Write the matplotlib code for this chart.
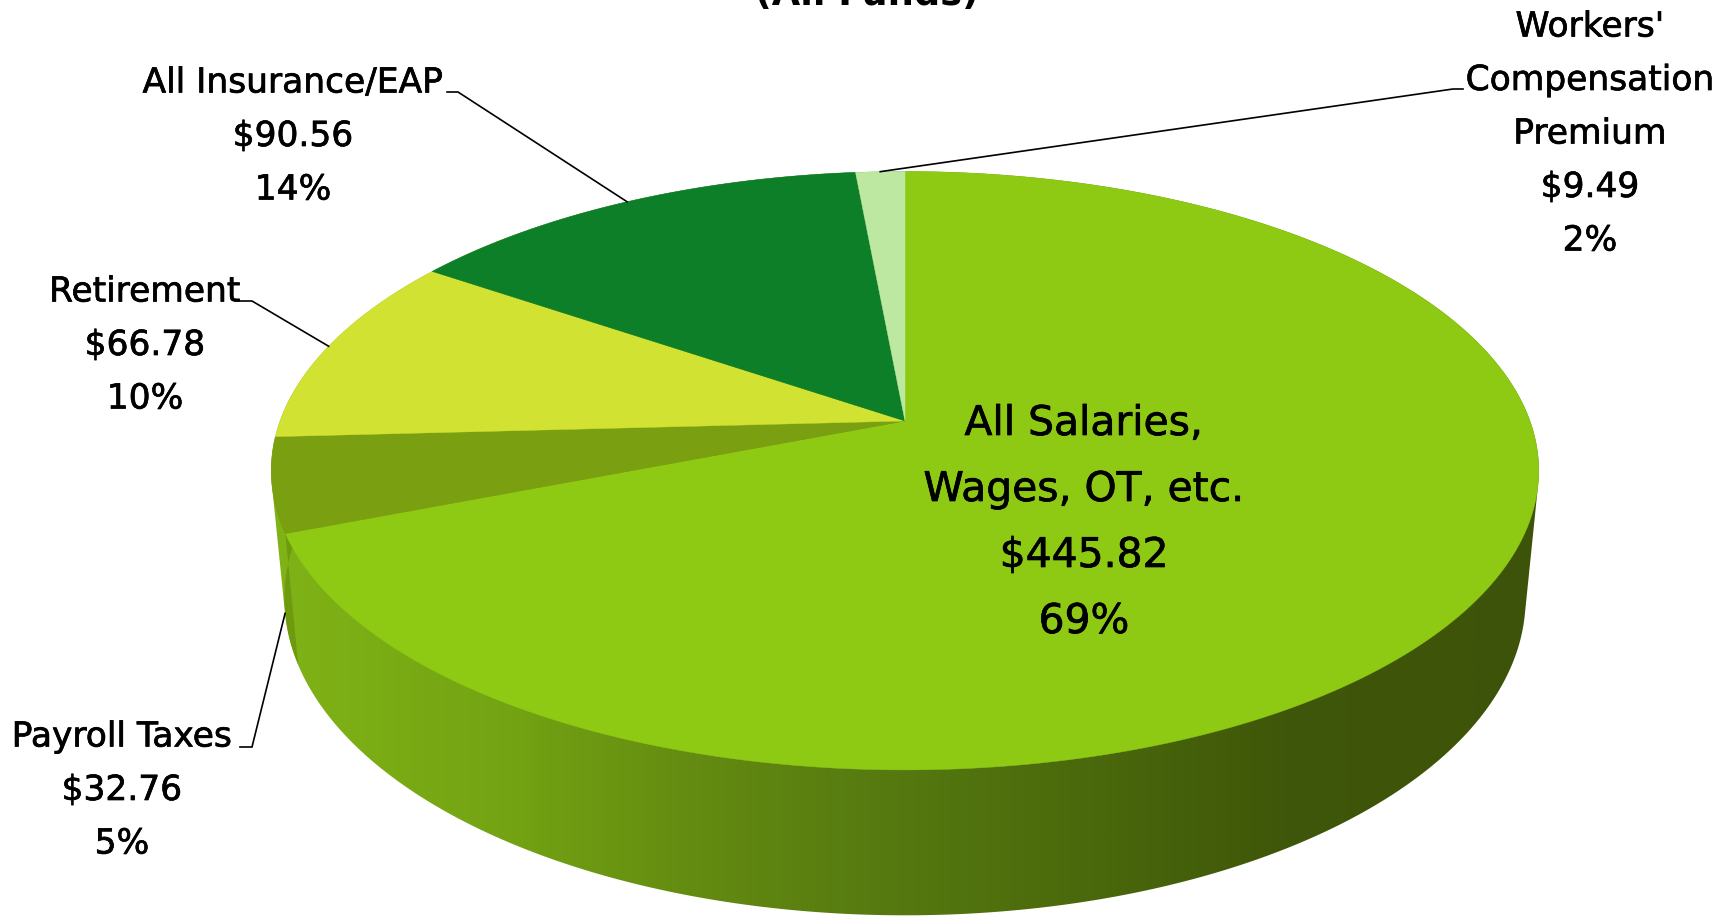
#!/usr/bin/env python3
"""Rebuild the 3D style expense pie with a perspective top face and a shaded rim."""

import matplotlib
matplotlib.use("Agg")
import matplotlib.pyplot as plt
import matplotlib.patheffects as pe
from matplotlib.colors import LinearSegmentedColormap
from matplotlib.patches import Polygon
import numpy as np

# ── Data ──────────────────────────────────────────────────────────────────────
names = ["All Salaries,\nWages, OT, etc.", "Payroll Taxes", "Retirement",
         "All Insurance/EAP", "Workers'\nCompensation\nPremium"]
amounts = [445.82, 32.76, 66.78, 90.56, 9.49]
percents = [69, 5, 10, 14, 2]
title_tail = "(All Funds)"

# ── Palette ───────────────────────────────────────────────────────────────────
top_colors = ["#8ECA14", "#7A9F11", "#D2E233", "#0E7F29", "#BDE8A1"]
C_PAYROLL_SIDE = "#6E9A10"
rim_stops = [(0.0, "#80B316"), (0.18, "#74A413"), (0.34, "#638A11"),
             (0.48, "#567A10"), (0.65, "#4A680C"), (0.80, "#3F5709"), (1.0, "#3D5309")]

# ── Projection of the pie, in pixels of the final image ───────────────────────
W, H = 1731, 916
CX = 905.0
TOP_CY, TOP_A, TOP_B = 421.0, 625.0, 291.0
LOW_CY, LOW_A, LOW_B = 546.0, 612.0, 308.0
TILT = 0.166


def project(theta_deg, cy, a, b):
    """Clockwise angle from 12 o'clock to pixel position on a tilted disc."""
    t = np.radians(theta_deg)
    u, v = np.sin(t), np.cos(t)
    w = 1 + TILT * v
    return CX + a * u / w, cy - b * v / w


def top_pt(theta):
    return project(theta, TOP_CY, TOP_A, TOP_B)


def low_pt(theta):
    return project(theta, LOW_CY, LOW_A, LOW_B)


def hull(points):
    """Convex hull (monotone chain), used for the outline of the whole rim."""
    pts = sorted(map(tuple, points))

    def half(seq):
        out = []
        for p in seq:
            while len(out) > 1 and ((out[-1][0] - out[-2][0]) * (p[1] - out[-2][1])
                                    - (out[-1][1] - out[-2][1]) * (p[0] - out[-2][0])) <= 0:
                out.pop()
            out.append(p)
        return out[:-1]

    return np.array(half(pts) + half(pts[::-1]))


# ── Angles come from the amounts ──────────────────────────────────────────────
shares = np.array(amounts) / sum(amounts)
edges = np.concatenate([[0], np.cumsum(shares) * 360])
mids = (edges[:-1] + edges[1:]) / 2

fig = plt.figure(figsize=(W / 100, H / 100), dpi=100, facecolor="white")
ax = fig.add_axes([0, 0, 1, 1])

# ── Rim: horizontal gradient clipped to the hull of both faces ────────────────
sweep = np.linspace(0, 360, 721)
outline = hull(np.column_stack(top_pt(sweep)).tolist()
               + np.column_stack(low_pt(sweep)).tolist())
clip = Polygon(outline, closed=True, transform=ax.transData, facecolor="none", edgecolor="none")
ax.add_patch(clip)
cmap = LinearSegmentedColormap.from_list("rim", rim_stops)
grad = ax.imshow(np.linspace(0, 1, 512)[None, :], cmap=cmap, aspect="auto",
                 extent=[CX - 634, CX + 634, H, 0], zorder=1)
grad.set_clip_path(clip)

# Payroll wedge has its own rim piece on the far left
arc = np.linspace(edges[1], edges[2] + 15, 60)
side = np.vstack([np.column_stack(top_pt(arc)), np.column_stack(low_pt(arc))[::-1]])
piece = ax.add_patch(Polygon(side, closed=True, facecolor=C_PAYROLL_SIDE, edgecolor="none", zorder=2))
piece.set_clip_path(clip)

# ── Top face ──────────────────────────────────────────────────────────────────
for i, color in enumerate(top_colors):
    arc = np.linspace(edges[i], edges[i + 1], 240)
    verts = np.vstack([[CX, TOP_CY], np.column_stack(top_pt(arc))])
    ax.add_patch(Polygon(verts, closed=True, facecolor=color, edgecolor=color, lw=0.3, zorder=3))

# ── Leader lines: (stub start x, elbow x, y, where the line meets the pie) ────
leaders = [
    (240, 252, 747, low_pt(mids[1])),
    (240, 252, 301, top_pt(mids[2])),
    (447, 458, 92, top_pt(mids[3])),
    (1463, 1453, 89, top_pt(mids[4])),
]
for x0, x1, y, (xe, ye) in leaders:
    ax.plot([x0, x1, xe], [y, y, ye], color="black", lw=1.2, zorder=4, solid_joinstyle="miter")

# ── Labels ────────────────────────────────────────────────────────────────────
FS = 24.8
LINE = 53.5
HEAVY = [pe.withStroke(linewidth=0.5, foreground="black")]


def label(i, x, y, fs=FS, step=LINE):
    lines = names[i].split("\n") + [f"${amounts[i]:.2f}", f"{percents[i]}%"]
    for k, s in enumerate(lines):
        ax.text(x, y + k * step, s, ha="center", va="center", fontsize=fs, color="black",
                zorder=5, path_effects=HEAVY)


label(0, 1084, 424, fs=29.4, step=66)
label(1, 122, 737)
label(2, 145, 292)
label(3, 293, 83)
label(4, 1590, 27)

# Title is cut off by the top of the image, only its last line shows
ax.text(867, 5, title_tail, ha="center", va="baseline", fontsize=26.5,
        fontweight="bold", color="black", zorder=5)

ax.set_xlim(0, W)
ax.set_ylim(H, 0)
ax.axis("off")

fig.savefig("out.png", dpi=100, facecolor="white")
